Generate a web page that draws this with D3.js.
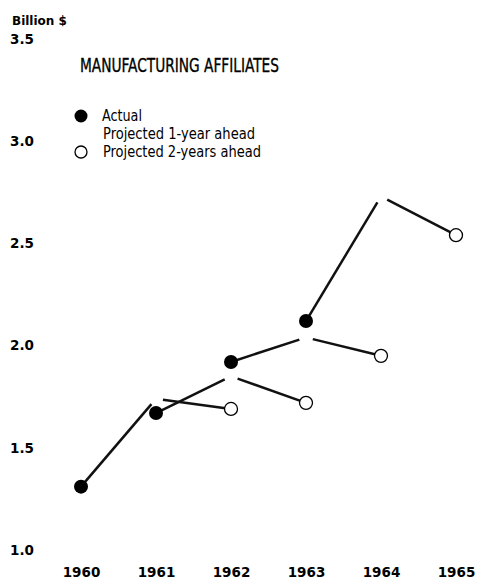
<!DOCTYPE html>
<html lang="en">
<head>
    <style>
        body { margin: 0; background: #fff; }
        svg { display: block; }
    </style>
</head>
<body>
    <svg width="477" height="579"></svg>
    <script src="https://cdn.jsdelivr.net/npm/d3@7/dist/d3.min.js"></script>
    <script>
        const svg = d3.select("svg");

        /************************************************************************************
        * Data
        ************************************************************************************/
        const years = [1960, 1961, 1962, 1963, 1964, 1965];
        const yTicks = [1.0, 1.5, 2.0, 2.5, 3.0, 3.5];

        // Actual value for each base year
        const actualYears = [1960, 1961, 1962, 1963];
        const actual = [1.31, 1.67, 1.92, 2.12];
        // Projections made in each base year
        const proj1 = [1.74, 1.85, 2.04, 2.73]; // for base year + 1
        const proj2 = [1.69, 1.72, 1.95, 2.54]; // for base year + 2

        const x = d3.scaleLinear().domain([1960, 1965]).range([81, 456]);
        const y = d3.scaleLinear().domain([1.0, 3.5]).range([550, 39]);

        const numFont = "'DejaVu Sans', sans-serif";
        const narrowFont = "'Liberation Sans Narrow', 'DejaVu Sans Condensed', sans-serif";

        /************************************************************************************
        * Axes (labels only)
        ************************************************************************************/
        const yAxis = svg.append("g")
            .call(d3.axisLeft(y).tickValues(yTicks).tickFormat(d3.format(".1f")).tickSize(0))
            .attr("font-family", numFont)
            .attr("font-size", 13.5)
            .attr("font-weight", "bold")
            .attr("text-anchor", "start");
        yAxis.select(".domain").remove();
        yAxis.selectAll("text").attr("x", 10).attr("fill", "#000");

        const xAxis = svg.append("g")
            .call(d3.axisBottom(x).tickValues(years).tickFormat(d3.format("d")).tickSize(0))
            .attr("font-family", numFont)
            .attr("font-size", 13.5)
            .attr("font-weight", "bold");
        xAxis.select(".domain").remove();
        xAxis.selectAll("text").attr("y", 577).attr("dy", 0).attr("fill", "#000");

        svg.append("text")
            .attr("x", 12).attr("y", 25)
            .attr("font-family", numFont)
            .attr("font-size", 12)
            .attr("font-weight", "bold")
            .text("Billion $");

        svg.append("text")
            .attr("x", 80).attr("y", 72)
            .attr("font-family", narrowFont)
            .attr("font-size", 19.5)
            .attr("stroke", "#000")
            .attr("stroke-width", 0.35)
            .attr("textLength", 199)
            .attr("lengthAdjust", "spacingAndGlyphs")
            .text("MANUFACTURING AFFILIATES");

        /************************************************************************************
        * Legend
        ************************************************************************************/
        const legend = svg.append("g").attr("font-family", narrowFont).attr("font-size", 16);
        legend.append("circle").attr("cx", 81).attr("cy", 116).attr("r", 6.5).attr("fill", "#000");
        legend.append("circle").attr("cx", 81).attr("cy", 152).attr("r", 6)
            .attr("fill", "#fff").attr("stroke", "#000").attr("stroke-width", 1.3);
        legend.append("text").attr("x", 102).attr("y", 121)
            .attr("textLength", 40).attr("lengthAdjust", "spacingAndGlyphs").text("Actual");
        legend.append("text").attr("x", 103).attr("y", 138.5)
            .attr("textLength", 152).attr("lengthAdjust", "spacingAndGlyphs").text("Projected 1-year ahead");
        legend.append("text").attr("x", 103).attr("y", 157)
            .attr("textLength", 158).attr("lengthAdjust", "spacingAndGlyphs").text("Projected 2-years ahead");

        /************************************************************************************
        * Projection lines
        ************************************************************************************/
        // point at distance d from b, on the way from a to b
        function pullBack(a, b, d) {
            const dx = b[0] - a[0], dy = b[1] - a[1];
            const len = Math.hypot(dx, dy);
            return [b[0] - dx / len * d, b[1] - dy / len * d];
        }

        const gap = 7;
        const chains = actualYears.map((yr, i) => ({
            a: [x(yr), y(actual[i])],
            p1: [x(yr + 1), y(proj1[i])],
            p2: [x(yr + 2), y(proj2[i])]
        }));

        const lines = svg.append("g")
            .attr("stroke", "#111")
            .attr("stroke-width", 2.5)
            .attr("stroke-linecap", "butt");

        chains.forEach(c => {
            const e1 = pullBack(c.a, c.p1, gap);
            const s2 = pullBack(c.p2, c.p1, gap);
            lines.append("line")
                .attr("x1", c.a[0]).attr("y1", c.a[1])
                .attr("x2", e1[0]).attr("y2", e1[1]);
            lines.append("line")
                .attr("x1", s2[0]).attr("y1", s2[1])
                .attr("x2", c.p2[0]).attr("y2", c.p2[1]);
        });

        svg.append("g").selectAll("circle")
            .data(chains)
            .join("circle")
            .attr("cx", d => d.p2[0])
            .attr("cy", d => d.p2[1])
            .attr("r", 6.5)
            .attr("fill", "#fff")
            .attr("stroke", "#000")
            .attr("stroke-width", 1.3);

        svg.append("g").selectAll("circle")
            .data(chains)
            .join("circle")
            .attr("cx", d => d.a[0])
            .attr("cy", d => d.a[1])
            .attr("r", 7)
            .attr("fill", "#000");
    </script>
</body>
</html>
